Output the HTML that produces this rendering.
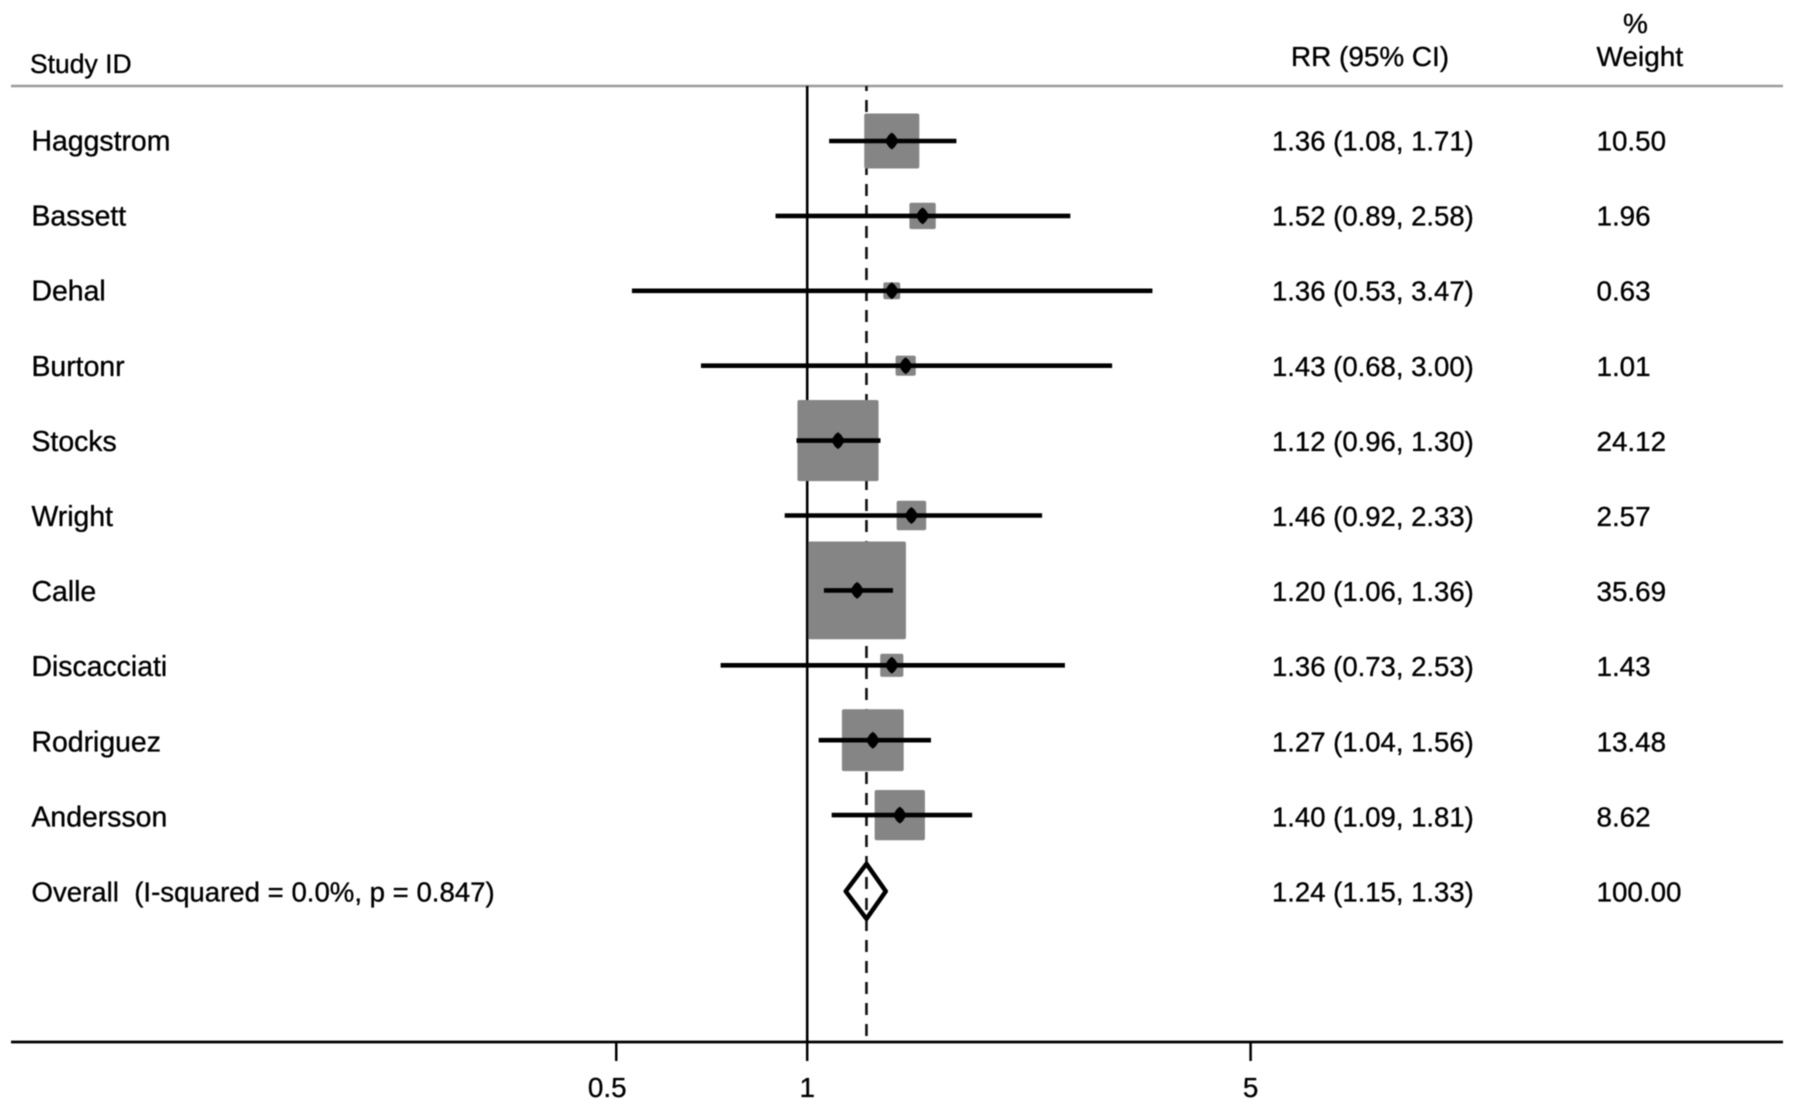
<!DOCTYPE html>
<html lang="en">
<head>
<meta charset="utf-8">
<title>Forest plot</title>
<style>
html,body{margin:0;padding:0;background:#fff;}
#forest-plot{display:block;width:1795px;height:1112px;filter:blur(0.45px);}
text{font-family:"Liberation Sans",Arial,sans-serif;fill:#000;stroke:#000;stroke-width:0.35px;font-size:27.8px;}
</style>
</head>
<body>
<svg id="forest-plot" xmlns="http://www.w3.org/2000/svg" width="1795" height="1112" viewBox="0 0 1795 1112"></svg>
<script>
const studies = ["Haggstrom","Bassett","Dehal","Burtonr","Stocks","Wright","Calle","Discacciati","Rodriguez","Andersson"];
const rr = [1.36,1.52,1.36,1.43,1.12,1.46,1.20,1.36,1.27,1.40];
const ciLow = [1.08,0.89,0.53,0.68,0.96,0.92,1.06,0.73,1.04,1.09];
const ciHigh = [1.71,2.58,3.47,3.00,1.30,2.33,1.36,2.53,1.56,1.81];
const weights = ["10.50","1.96","0.63","1.01","24.12","2.57","35.69","1.43","13.48","8.62"];
const overallLabel = "Overall  (I-squared = 0.0%, p = 0.847)";
const overallRR = 1.24;
const overallLow = 1.15;
const overallHigh = 1.33;
const overallWeight = "100.00";
const tickValues = [0.5,1,5];
const tickLabels = ["0.5","1","5"];

const svg = document.getElementById('forest-plot');
const NS = 'http://www.w3.org/2000/svg';
const xScale = v => 807.8 + 277 * Math.log(v);
const pointScale = v => 806.6 + 277 * Math.log(v);
const axisScale = v => 807.2 + 275.5 * Math.log(v);
const rowY = i => 141 + 74.9 * i;
const textY = i => 150.5 + 75.1 * i;
const boxSize = w => 15.6 * Math.sqrt(w) + 4.5;

function make(tag, attrs, txt) {
  const n = document.createElementNS(NS, tag);
  for (const k in attrs) n.setAttribute(k, attrs[k]);
  if (txt !== undefined) {
    n.setAttribute('xml:space', 'preserve');
    n.style.whiteSpace = 'pre';
    n.textContent = txt;
  }
  svg.appendChild(n);
  return n;
}
const fmt = (a, b, c) => a.toFixed(2) + ' (' + b.toFixed(2) + ', ' + c.toFixed(2) + ')';

let el;
el = make('text', {x: 30, y: 73, style: 'font-size:26.5px'}, 'Study ID');


el = make('text', {x: 1291, y: 66, style: 'font-size:27.9px'}, 'RR (95% CI)');


el = make('text', {x: 1635.5, y: 33, 'text-anchor': 'middle', style: 'font-size:28px'}, '%');


el = make('text', {x: 1596.5, y: 66, style: 'font-size:28px'}, 'Weight');


el = make('line', {x1: 11, x2: 1783, y1: 86, y2: 86, stroke: '#9a9a9a', 'stroke-width': 2.5});



el = make('line', {x1: axisScale(1), x2: axisScale(1), y1: 86, y2: 1042, stroke: '#000', 'stroke-width': 2.6});


el = make('line', {x1: axisScale(overallRR), x2: axisScale(overallRR), y1: 86, y2: 1042, stroke: '#111', 'stroke-width': 2.6, 'stroke-dasharray': '12 9', 'stroke-dashoffset': 7});



studies.forEach((name, i) => {
  const y = rowY(i);
  const s = boxSize(parseFloat(weights[i]));
  const cx = pointScale(rr[i]);
  let e = make('rect', {x: cx - s / 2, y: y - s / 2, width: s, height: s, rx: 2, fill: '#858585'});
  
  
  e = make('line', {x1: xScale(ciLow[i]), x2: xScale(ciHigh[i]), y1: y, y2: y, stroke: '#000', 'stroke-width': 4.6});
  
  
  e = make('polygon', {points: [[cx - 7, y], [cx - 3, y - 6], [cx, y - 8.5], [cx + 3, y - 6], [cx + 7, y], [cx + 3, y + 6], [cx, y + 8.5], [cx - 3, y + 6]].join(' '), fill: '#000'});
  
  
  e = make('text', {x: 31.5, y: textY(i), style: 'font-size:28.4px'}, name);
  
  
  e = make('text', {x: 1272, y: textY(i), style: 'font-size:27.5px'}, fmt(rr[i], ciLow[i], ciHigh[i]));
  
  
  e = make('text', {x: 1596.5, y: textY(i)}, weights[i]);
  
  
});

const oy = 891.3;
const oRow = studies.length;
el = make('polygon', {points: [[axisScale(overallLow), oy], [axisScale(overallRR), oy - 27.5], [axisScale(overallHigh), oy], [axisScale(overallRR), oy + 27.5]].join(' '), fill: 'none', stroke: '#000', 'stroke-width': 4.5, 'stroke-linejoin': 'round'});


el = make('text', {x: 31.5, y: textY(oRow), style: 'font-size:27.6px'}, overallLabel);


el = make('text', {x: 1272, y: textY(oRow), style: 'font-size:27.5px'}, fmt(overallRR, overallLow, overallHigh));


el = make('text', {x: 1596.5, y: textY(oRow)}, overallWeight);



el = make('line', {x1: 11, x2: 1783, y1: 1042, y2: 1042, stroke: '#000', 'stroke-width': 2.8});


tickValues.forEach((v, i) => {
  const x = axisScale(v);
  let e = make('line', {x1: x, x2: x, y1: 1042, y2: 1061, stroke: '#000', 'stroke-width': 2.5});
  
  
  const off = i === 0 ? -9 : 0;
  e = make('text', {x: x + off, y: 1097, 'text-anchor': 'middle'}, tickLabels[i]);
  
  
});
</script>
</body>
</html>
